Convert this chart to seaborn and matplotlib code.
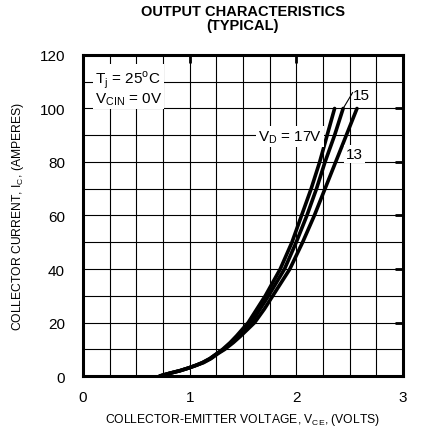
import numpy as np
import pandas as pd
import seaborn as sns
import matplotlib.pyplot as plt
from matplotlib.ticker import MultipleLocator

# collector current points (A) shared by all curves
current = [0, 1, 2, 3, 4, 5, 6.5, 8.5, 10, 12.5, 15, 20, 25, 30, 40, 50, 60, 70, 80, 90, 100]
# collector-emitter voltage (V) for each gate drive voltage V_D
vce_17 = [0.72, 0.81, 0.91, 0.99, 1.06, 1.12, 1.19, 1.26, 1.31, 1.38, 1.44, 1.55, 1.63, 1.71, 1.85, 1.96, 2.05, 2.14, 2.22, 2.29, 2.36]
vce_15 = [0.72, 0.81, 0.91, 0.99, 1.06, 1.12, 1.19, 1.26, 1.32, 1.39, 1.46, 1.58, 1.66, 1.74, 1.89, 2.00, 2.10, 2.19, 2.27, 2.36, 2.44]
vce_13 = [0.72, 0.81, 0.91, 0.99, 1.06, 1.13, 1.20, 1.27, 1.33, 1.41, 1.48, 1.61, 1.70, 1.78, 1.94, 2.06, 2.17, 2.27, 2.37, 2.47, 2.57]
vd_labels = ['17', '15', '13']

rows = []
for lab, vals in zip(vd_labels, [vce_17, vce_15, vce_13]):
    for v, i in zip(vals, current):
        rows.append({'vd': lab, 'vce': v, 'ic': i})
df = pd.DataFrame(rows)

sns.set_style('white')
plt.rcParams['font.family'] = ['Liberation Sans', 'DejaVu Sans']
for k in ['text.color', 'axes.labelcolor', 'xtick.color', 'ytick.color']:
    plt.rcParams[k] = 'black'

fig = plt.figure(figsize=(4.24, 4.35), dpi=100)
ax = fig.add_axes([0.196, 0.1333, 0.754, 0.738])

sns.lineplot(data=df, x='vce', y='ic', hue='vd', palette=['black'] * 3,
             linewidth=2.6, legend=False, sort=False, ax=ax, estimator=None)

ax.set_xlim(0, 3)
ax.set_ylim(0, 120)
ax.xaxis.set_major_locator(MultipleLocator(1))
ax.xaxis.set_minor_locator(MultipleLocator(0.25))
ax.yaxis.set_major_locator(MultipleLocator(20))
ax.yaxis.set_minor_locator(MultipleLocator(10))
ax.grid(True, which='both', color='black', linewidth=0.8)
ax.set_axisbelow(True)
for s in ax.spines.values():
    s.set_linewidth(2.2)
    s.set_color('black')
ax.tick_params(which='major', direction='in', length=6, width=2,
               top=True, right=True, labelsize=11)
ax.tick_params(axis='y', pad=13)
ax.tick_params(axis='x', pad=10)
ax.tick_params(which='minor', length=0)

ax.set_xlabel('COLLECTOR-EMITTER VOLTAGE, V$_{\\mathregular{CE}}$, (VOLTS)',
              fontsize=8.7, labelpad=5)
ax.set_ylabel('COLLECTOR CURRENT, I$_{\\mathregular{C}}$, (AMPERES)',
              fontsize=8.7, labelpad=10)
ax.set_title('OUTPUT CHARACTERISTICS\n(TYPICAL)', fontsize=10.5,
             fontweight='bold', pad=19, linespacing=1.0)

box = dict(facecolor='white', edgecolor='none', pad=1.5)
ax.text(0.11, 115, 'T$_{\\mathregular{j}}$ = 25$^{\\mathregular{o}}$C\nV$_{\\mathregular{CIN}}$ = 0V',
        fontsize=11, va='top', ha='left', bbox=box, linespacing=1.05)
ax.text(1.94, 89.5, 'V$_{\\mathregular{D}}$ = 17V', fontsize=11, ha='center',
        va='center', bbox=box)
ax.text(2.47, 83, '13', fontsize=11, ha='left', va='center', bbox=box)
ax.text(2.53, 105, '15', fontsize=11, ha='left', va='center')
ax.plot([2.44, 2.53], [100, 106], color='black', linewidth=0.8)

fig.savefig('out.png', dpi=100)
